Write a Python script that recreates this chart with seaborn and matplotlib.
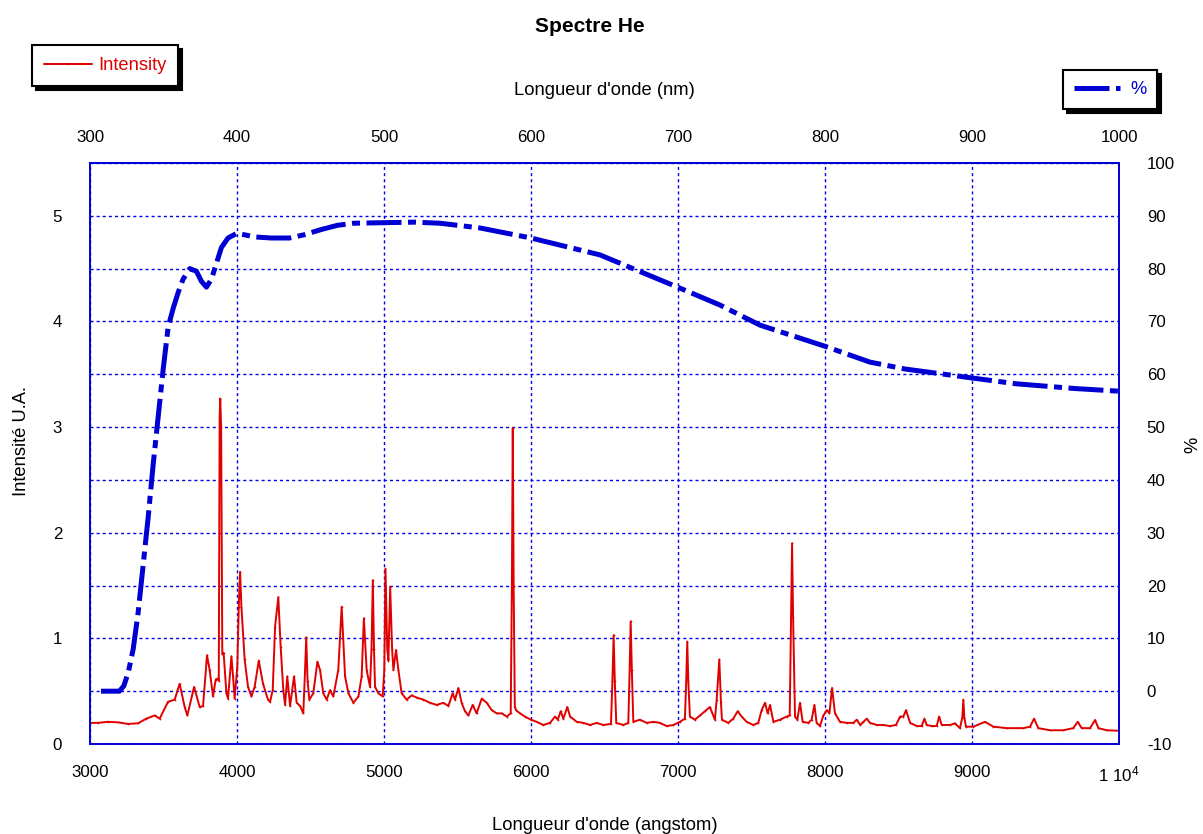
import matplotlib
matplotlib.use("Agg")
import matplotlib.pyplot as plt
import numpy as np
import pandas as pd
import seaborn as sns
from matplotlib.ticker import FixedLocator, FixedFormatter, MultipleLocator

# He spectrum (intensity, arbitrary units)
wavelength_a = [
    3000, 3054, 3122, 3190, 3259, 3327, 3383, 3440, 3474, 3531, 3576, 3610,
    3644, 3662, 3708, 3746, 3769, 3796, 3814, 3837, 3855, 3870, 3876, 3882,
    3886, 3892, 3900, 3909, 3928, 3939, 3962, 3973, 3984, 4002, 4012, 4021,
    4030, 4052, 4075, 4098, 4120, 4148, 4177, 4211, 4225, 4243, 4259, 4281,
    4297, 4315, 4327, 4342, 4361, 4388, 4406, 4429, 4451, 4463, 4471, 4480,
    4492, 4519, 4547, 4565, 4587, 4610, 4633, 4655, 4689, 4712, 4735, 4758,
    4792, 4826, 4848, 4863, 4882, 4905, 4915, 4924, 4932, 4939, 4962, 4991,
    5002, 5010, 5022, 5030, 5042, 5055, 5064, 5082, 5098, 5120, 5154, 5188,
    5222, 5268, 5313, 5358, 5404, 5438, 5467, 5483, 5506, 5528, 5551, 5574,
    5603, 5630, 5665, 5699, 5733, 5767, 5801, 5835, 5862, 5870, 5876, 5882,
    5890, 5898, 5925, 5959, 6000, 6039, 6084, 6129, 6164, 6182, 6202, 6220,
    6247, 6266, 6311, 6356, 6402, 6447, 6492, 6544, 6554, 6562, 6570, 6580,
    6628, 6662, 6671, 6678, 6686, 6696, 6741, 6787, 6832, 6877, 6923, 6968,
    7013, 7047, 7056, 7063, 7070, 7081, 7115, 7149, 7183, 7217, 7251, 7263,
    7281, 7292, 7299, 7342, 7376, 7406, 7433, 7467, 7512, 7546, 7569, 7592,
    7610, 7626, 7649, 7694, 7739, 7760, 7769, 7776, 7783, 7796, 7812, 7830,
    7848, 7887, 7909, 7928, 7943, 7966, 7989, 8012, 8030, 8048, 8068, 8102,
    8148, 8193, 8216, 8239, 8261, 8284, 8306, 8352, 8397, 8442, 8483, 8511,
    8533, 8551, 8579, 8624, 8658, 8676, 8692, 8726, 8760, 8776, 8794, 8851,
    8884, 8918, 8934, 8941, 8948, 8959, 9009, 9089, 9145, 9236, 9349, 9395,
    9422, 9451, 9531, 9621, 9689, 9719, 9746, 9803, 9837, 9860, 9916, 10000,
]
intensity = [
    0.20, 0.20, 0.21, 0.205, 0.19, 0.196, 0.24, 0.27, 0.24, 0.40, 0.42, 0.57,
    0.35, 0.27, 0.54, 0.35, 0.36, 0.84, 0.70, 0.45, 0.61, 0.62, 0.60, 3.10,
    3.27, 3.00, 0.85, 0.86, 0.48, 0.43, 0.83, 0.64, 0.43, 0.73, 1.30, 1.63,
    1.30, 0.80, 0.54, 0.45, 0.54, 0.79, 0.57, 0.42, 0.40, 0.51, 1.11, 1.39,
    0.92, 0.51, 0.37, 0.64, 0.36, 0.64, 0.39, 0.36, 0.29, 0.70, 1.01, 0.60,
    0.42, 0.48, 0.78, 0.70, 0.48, 0.42, 0.51, 0.45, 0.70, 1.30, 0.64, 0.48,
    0.39, 0.45, 0.64, 1.19, 0.70, 0.54, 0.90, 1.55, 0.90, 0.54, 0.48, 0.45,
    0.70, 1.66, 0.90, 0.79, 1.49, 0.90, 0.70, 0.89, 0.70, 0.48, 0.42, 0.46,
    0.44, 0.42, 0.39, 0.37, 0.39, 0.36, 0.48, 0.42, 0.53, 0.39, 0.31, 0.27,
    0.37, 0.29, 0.43, 0.39, 0.32, 0.29, 0.29, 0.26, 0.29, 1.50, 2.99, 1.50,
    0.35, 0.32, 0.29, 0.26, 0.23, 0.21, 0.18, 0.20, 0.26, 0.23, 0.31, 0.24,
    0.35, 0.26, 0.21, 0.20, 0.18, 0.20, 0.18, 0.19, 0.60, 1.03, 0.60, 0.20,
    0.18, 0.20, 0.70, 1.16, 0.70, 0.21, 0.23, 0.20, 0.21, 0.20, 0.17, 0.18,
    0.21, 0.24, 0.60, 0.97, 0.60, 0.26, 0.23, 0.27, 0.31, 0.35, 0.23, 0.42,
    0.80, 0.40, 0.23, 0.20, 0.24, 0.31, 0.26, 0.21, 0.18, 0.20, 0.32, 0.39,
    0.29, 0.37, 0.21, 0.23, 0.26, 0.27, 1.20, 1.90, 1.20, 0.26, 0.23, 0.39,
    0.21, 0.20, 0.23, 0.37, 0.20, 0.17, 0.27, 0.32, 0.29, 0.53, 0.29, 0.21,
    0.20, 0.20, 0.23, 0.18, 0.21, 0.24, 0.20, 0.18, 0.18, 0.17, 0.18, 0.26,
    0.26, 0.32, 0.20, 0.17, 0.17, 0.24, 0.18, 0.17, 0.17, 0.26, 0.18, 0.18,
    0.195, 0.15, 0.25, 0.42, 0.25, 0.164, 0.164, 0.21, 0.164, 0.15, 0.15, 0.164,
    0.24, 0.15, 0.13, 0.13, 0.15, 0.21, 0.15, 0.15, 0.227, 0.15, 0.13, 0.125,
]

# response curve (%)
resp_wavelength_a = [
    3075, 3200, 3230, 3260, 3294, 3328, 3362, 3396, 3430, 3464, 3498, 3532,
    3566, 3600, 3633, 3679, 3724, 3758, 3792, 3826, 3860, 3894, 3939, 4000,
    4120, 4233, 4357, 4455, 4572, 4683, 4796, 5000, 5206, 5380, 5653, 6000,
    6469, 7014, 7286, 7558, 8000, 8306, 8544, 9000, 9300, 9700, 10000,
]
resp_percent = [
    0.0, 0.0, 1.0, 3.5, 8.0, 15.0, 24.0, 33.0, 43.0, 52.0, 61.0, 69.0,
    72.5, 75.5, 78.0, 80.0, 79.5, 77.6, 76.5, 78.0, 81.0, 84.0, 85.8, 86.7,
    86.0, 85.8, 85.8, 86.4, 87.4, 88.2, 88.6, 88.7, 88.8, 88.6, 87.7, 85.8,
    82.6, 76.3, 73.1, 69.3, 65.3, 62.3, 61.0, 59.3, 58.2, 57.3, 56.8,
]

x_ticks = [3000, 4000, 5000, 6000, 7000, 8000, 9000, 10000]
x_tick_labels = ["3000", "4000", "5000", "6000", "7000", "8000", "9000", r"1 $10^4$"]
nm_ticks = [300, 400, 500, 600, 700, 800, 900, 1000]
left_ticks = [0, 1, 2, 3, 4, 5]
right_ticks = [-10, 0, 10, 20, 30, 40, 50, 60, 70, 80, 90, 100]

RED = "#e00000"
BLUE = "#0000d2"
GRID = "#0000ee"

sns.set_theme(style="white")
plt.rcParams["font.family"] = ["Liberation Sans", "DejaVu Sans"]
plt.rcParams["mathtext.fontset"] = "custom"
plt.rcParams["mathtext.rm"] = "Liberation Sans"
plt.rcParams["mathtext.default"] = "rm"
plt.rcParams["axes.unicode_minus"] = False
plt.rcParams["text.color"] = "black"
plt.rcParams["axes.labelcolor"] = "black"

FS = 12.2     # tick labels
LFS = 13.2    # axis labels / legends

fig = plt.figure(figsize=(12.03, 8.34), dpi=100)
ax = fig.add_axes([90 / 1203, 1 - 744 / 834, 1029 / 1203, 581 / 834])
ax2 = ax.twinx()

spec = pd.DataFrame({"wl": wavelength_a, "I": intensity})
resp = pd.DataFrame({"wl": resp_wavelength_a, "pct": resp_percent})

sns.lineplot(data=spec, x="wl", y="I", ax=ax, color=RED, linewidth=1.4,
             marker=".", markersize=2.5, markeredgewidth=0, estimator=None,
             legend=False)
sns.lineplot(data=resp, x="wl", y="pct", ax=ax2, color=BLUE, linewidth=3.6,
             linestyle=(0, (7, 1.3, 1.6, 1.3)), estimator=None, legend=False)

ax.set_xlim(3000, 10000)
ax.set_ylim(0, 5.5)
ax2.set_ylim(-10, 100)

ax.xaxis.set_major_locator(FixedLocator(x_ticks))
ax.xaxis.set_major_formatter(FixedFormatter(x_tick_labels))
ax.set_yticks(left_ticks)
ax.yaxis.set_minor_locator(MultipleLocator(0.5))
ax2.set_yticks(right_ticks)

grid_kw = dict(color=GRID, linewidth=1.0, linestyle=(0, (2.2, 2.2)))
ax.grid(axis="x", which="major", **grid_kw)
ax.grid(axis="y", which="both", **grid_kw)
ax2.grid(False)

for a in (ax, ax2):
    for sp in a.spines.values():
        sp.set_visible(True)
        sp.set_color(BLUE)
        sp.set_linewidth(1.2)

ax.tick_params(axis="x", which="both", length=0, pad=15, labelsize=FS, colors="black")
ax.tick_params(axis="y", which="both", length=0, pad=20, labelsize=FS, colors="black")
ax2.tick_params(axis="y", length=0, pad=20, labelsize=FS, colors="black")
for lab in ax2.get_yticklabels():
    lab.set_horizontalalignment("left")

# top axis in nm
secax = ax.secondary_xaxis("top", functions=(lambda a: a / 10.0, lambda n: n * 10.0))
secax.set_xticks(nm_ticks)
secax.tick_params(length=0, pad=13, labelsize=FS, colors="black")
secax.spines["top"].set_color(BLUE)
secax.set_xlabel("Longueur d'onde (nm)", fontsize=LFS, labelpad=25, color="black")

ax.set_xlabel("Longueur d'onde (angstom)", fontsize=LFS, color="black")
ax.xaxis.set_label_coords(0.5, -0.125)
ax.xaxis.label.set_va("top")
ax.set_ylabel("Intensité U.A.", fontsize=LFS, color="black")
ax.yaxis.set_label_coords(-0.058, 0.522)
ax2.set_ylabel("%", fontsize=LFS, color="black")
ax2.yaxis.set_label_coords(1.064, 0.515)

fig.suptitle("Spectre He", x=590 / 1203, y=1 - 17 / 834, va="top",
             fontsize=15, fontweight="bold", color="black")

shadow = {"ox": 3, "oy": -3, "color": "black", "alpha": 1.0}
leg1 = fig.legend([ax.get_lines()[0]], ["Intensity"], loc="upper left",
                  bbox_to_anchor=(32 / 1203, 1 - 45 / 834), borderaxespad=0,
                  fontsize=LFS, frameon=True, fancybox=False, shadow=shadow,
                  edgecolor="black", handlelength=2.6, handletextpad=0.35,
                  borderpad=0.65, labelcolor=RED)
leg1.get_frame().set_linewidth(1.5)
leg2 = fig.legend([ax2.get_lines()[0]], ["%"], loc="upper left",
                  bbox_to_anchor=(1063 / 1203, 1 - 70 / 834), borderaxespad=0,
                  fontsize=LFS, frameon=True, fancybox=False, shadow=shadow,
                  edgecolor="black", handlelength=2.5, handletextpad=0.55,
                  borderpad=0.6, labelcolor=BLUE)
leg2.get_frame().set_linewidth(1.5)

fig.savefig("out.png", dpi=100)
